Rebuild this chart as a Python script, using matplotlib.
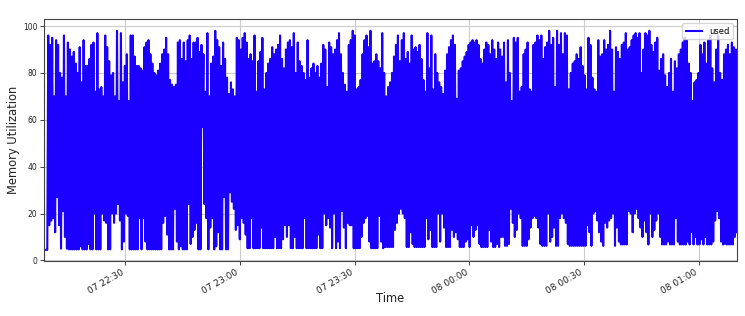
import pandas as pd
import matplotlib.pyplot as plt
import matplotlib.dates as mdates

# flat stretch at the very start, before the load begins
lead = [4.5, 4.5, 4.5, 4.5]

# local maxima of the memory trace, read left to right
peaks_a = [96, 92, 95, 70, 94, 92, 80, 78, 96, 70,
           93, 90, 87, 89, 84, 80, 91, 76, 94, 83,
           83, 86, 92, 93, 72, 97, 73, 74, 70, 96,
           91, 85, 79, 80, 70, 98, 68, 97, 76, 83,
           88, 68, 96, 96, 87, 83, 83, 82, 81, 91,
           93, 94, 88, 84, 80, 79, 81, 84, 88, 90,
           95, 88, 77, 75, 74, 75, 93, 94, 86, 93,
           85, 94, 96, 86, 93, 93, 95, 89, 92, 88,
           72, 97, 70, 84, 87, 98, 94, 91, 83, 93,
           86, 78, 71, 76, 73, 70, 95, 94, 90, 95,
           97, 93, 86, 88, 85]
peaks_b = [96, 72, 85, 89, 95, 73, 80, 84, 86, 91,
           88, 90, 92, 96, 86, 82, 90, 93, 94, 91,
           97, 80, 93, 85, 83, 80, 77, 94, 78, 82,
           84, 80, 83, 78, 84, 92, 90, 74, 93, 91,
           88, 90, 94, 97, 88, 80, 75, 72, 92, 94,
           98, 96, 73, 74, 77, 88, 94, 96, 91, 98,
           84, 85, 88, 85, 82, 97, 80, 70, 74, 76,
           80, 87, 92, 96, 85, 94, 97, 86, 89, 84,
           96, 90, 91, 89, 92, 86, 77, 72, 97, 82,
           96, 73, 88, 80, 76, 74, 71, 81, 88, 91,
           94, 96, 92, 69, 81, 82, 85, 87, 89, 92,
           93, 94, 93, 94, 92, 86, 84, 90, 93, 92,
           88, 94, 90, 86, 93, 90]
peaks_c = [87, 93, 76, 94, 80, 68, 95, 93, 95, 72,
           74, 88, 90, 93, 73, 72, 92, 93, 96, 94,
           96, 86, 91, 93, 98, 92, 95, 74, 98, 92,
           97, 88, 97, 96, 73, 80, 84, 85, 88, 86,
           91, 83, 79, 73, 95, 92, 78, 73, 72, 94,
           87, 88, 94, 90, 92, 98, 90, 72, 91, 89,
           86, 92, 93, 97, 90, 91, 94, 96, 97, 95,
           97, 80, 90, 97, 96, 98, 92, 89, 93, 95,
           81, 86, 88, 79, 74, 80, 86, 72, 85, 82,
           88, 90, 93, 95, 94, 84, 80, 68, 76, 77,
           80, 92, 88, 93, 84, 94, 96, 82, 76, 90,
           96, 80, 77, 88, 90, 92, 88, 93, 91, 90]

# local minima between those peaks
troughs_a = [15, 17, 18, 12, 27, 15, 5, 21, 10, 5,
             4.7, 4.7, 4.7, 4.7, 4.7, 4.7, 6, 4.7, 4.7, 4.7,
             7, 4.7, 4.7, 20, 4.7, 4.7, 4.7, 20, 17, 16,
             4.7, 4.7, 20, 16, 20, 24, 17, 4.7, 8, 20,
             19, 4.7, 4.7, 4.7, 4.7, 4.7, 18, 4.7, 18, 8,
             4.7, 4.7, 4.7, 4.7, 4.7, 4.7, 4.7, 4.7, 16, 19,
             11, 4.7, 4.7, 4.7, 22, 8, 4.7, 6, 4.7, 4.7,
             4.7, 24, 7, 10, 13, 16, 4.7, 4.7, 57, 24,
             18, 4.7, 14, 18, 4.7, 6, 12, 4.7, 4.7, 27,
             4.7, 4.7, 29, 25, 22, 13, 15, 9, 18, 16,
             11, 5.2, 5.2, 18, 5.2]
troughs_b = [5.2, 5.2, 5.2, 14, 5.2, 5.2, 5.2, 5.2, 5.2, 5.2,
             10, 5.2, 5.2, 5.2, 9, 15, 10, 15, 5.2, 5.2,
             10, 5.2, 5.2, 5.2, 5.2, 18, 5.2, 5.2, 5.2, 5.2,
             5.2, 5.2, 11, 5.2, 5.2, 20, 15, 18, 14, 5.2,
             20, 5.2, 8, 5.2, 21, 14, 5.2, 16, 15, 15,
             5.2, 5.2, 5.2, 5.2, 10, 16, 18, 19, 8, 5.2,
             5.2, 5.2, 5.2, 19, 8, 5.2, 5.7, 5.7, 5.7, 5.7,
             5.7, 13, 16, 20, 22, 20, 18, 5.7, 5.7, 12,
             7, 5.7, 5.7, 5.7, 5.7, 5.7, 5.7, 18, 9, 13,
             5.7, 5.7, 5.7, 20, 8, 20, 14, 5.7, 5.7, 5.7,
             13, 10, 12, 9, 5.7, 5.7, 5.7, 8, 9, 5.7,
             15, 10, 13, 15, 7, 5.7, 5.7, 5.7, 5.7, 13,
             8, 5.7, 5.7, 7, 5.7, 10]
troughs_c = [10, 6.2, 6.2, 7, 22, 16, 10, 13, 20, 18,
             6.2, 6.2, 6.2, 9, 14, 18, 19, 18, 14, 7,
             6.2, 6.2, 6.2, 20, 8, 10, 14, 6.2, 6.2, 18,
             20, 18, 16, 7, 6.2, 6.2, 6.2, 6.2, 6.2, 6.2,
             6.2, 6.2, 6.2, 15, 12, 6.2, 20, 21, 17, 12,
             8, 6.2, 16, 14, 17, 18, 20, 6.2, 14, 8,
             6.8, 6.8, 6.8, 6.8, 21, 20, 12, 20, 22, 18,
             14, 10, 17, 12, 6.8, 20, 10, 13, 17, 20,
             10, 6.8, 6.8, 6.8, 8, 6.8, 6.8, 6.8, 18, 8,
             6.8, 6.8, 6.8, 6.8, 8, 6.8, 12, 6.8, 10, 6.8,
             6.8, 9, 6.8, 10, 6.8, 6.8, 6.8, 8, 17, 21,
             18, 8, 6.8, 7, 6.8, 6.8, 6.8, 6.8, 10, 12]

start = '2023-07-07 22:08:49'
end = '2023-07-08 01:09:56'

# Put peaks and troughs back together into one trace
peaks = peaks_a + peaks_b + peaks_c
troughs = troughs_a + troughs_b + troughs_c
used = list(lead)
for p, t in zip(peaks, troughs):
    used += [p, t]

times = pd.date_range(start, end, periods=len(used))

fig, ax = plt.subplots(figsize=(7.45, 3.16), dpi=100)
ax.plot(times, used, color='#1c00ff', lw=1.5, label='used')

ax.set_xlim(times[0], times[-1])
ax.set_ylim(-0.4, 102.9)
ax.set_yticks([0, 20, 40, 60, 80, 100])
ax.xaxis.set_major_locator(mdates.MinuteLocator(byminute=[0, 30]))
ax.xaxis.set_major_formatter(mdates.DateFormatter('%d %H:%M'))
ax.grid(True, color='#cccccc', lw=0.8)
ax.tick_params(colors='#222222', length=3, width=0.6, pad=2)
ax.tick_params(axis='y', labelsize=5.5)
ax.tick_params(axis='x', labelsize=6.5)
for s in ax.spines.values():
    s.set_color('#444444')
    s.set_linewidth(0.8)

ax.set_xlabel('Time', fontsize=8.3, color='#222222')
ax.set_ylabel('Memory Utilization', fontsize=8.3, color='#222222')
ax.legend(loc='upper right', fontsize=6)

fig.autofmt_xdate(rotation=30, ha='right')
fig.subplots_adjust(left=0.0595, right=0.989, top=0.939, bottom=0.173)
ax.yaxis.set_label_coords(-0.035, 0.5)
ax.xaxis.set_label_coords(0.5, -0.128)

fig.savefig('out.png', dpi=100)
plt.close()
